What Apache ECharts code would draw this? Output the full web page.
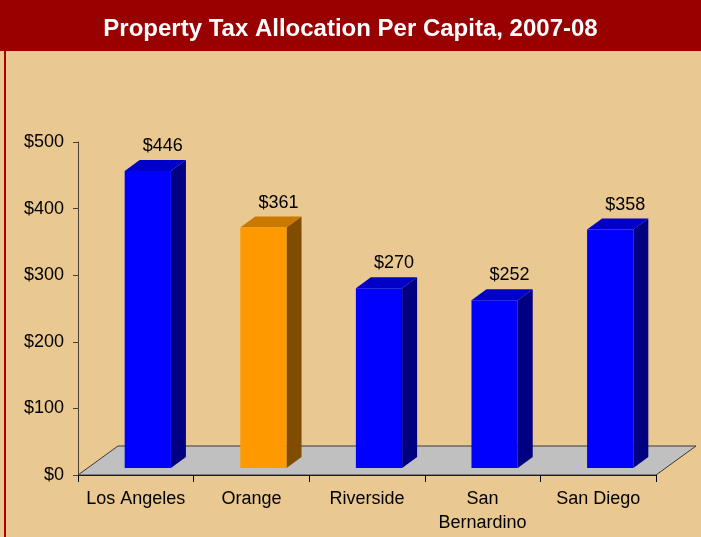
<!DOCTYPE html>
<html>
<head>
<meta charset="utf-8">
<script src="https://cdn.jsdelivr.net/npm/echarts@6/dist/echarts.min.js"></script>
<style>
  html, body { margin: 0; padding: 0; background: #E9C892; }
  #chart { width: 701px; height: 537px; }
</style>
</head>
<body>
<div id="chart"></div>
<script>
var titleText = 'Property Tax Allocation Per Capita, 2007-08';
var categories = ['Los Angeles', 'Orange', 'Riverside', 'San\nBernardino', 'San Diego'];
var values = [446, 361, 270, 252, 358];
var yTicks = [0, 100, 200, 300, 400, 500];

var font = 'Liberation Sans, Arial, sans-serif';
var bluePal = { front: '#0000FF', top: '#0000C8', side: '#000080' };
var orangePal = { front: '#FF9900', top: '#C97800', side: '#7F4C00' };

// pseudo 3d: depth offset of the floor, position of bars inside it
var floorDx = 40, floorDy = -29;
var barShiftX = 12, barShiftY = -7;
var depthDx = 15, depthDy = -11;

var chart = echarts.init(document.getElementById('chart'));

function renderFloor(params, api) {
    var cs = params.coordSys;
    var bx = cs.x, by = cs.y + cs.height, ex = cs.x + cs.width;
    return {
        type: 'polygon',
        shape: { points: [[bx, by], [ex, by], [ex + floorDx, by + floorDy], [bx + floorDx, by + floorDy]] },
        style: { fill: '#C0C0C0', stroke: '#3a3a3a', lineWidth: 1 },
        z2: 0
    };
}

function renderBar(params, api) {
    var i = api.value(0);
    var v = api.value(1);
    var base = api.coord([i, 0]);
    var top = api.coord([i, v]);
    var bw = api.size([1, 0])[0] * 0.4;
    var pal = categories[i] === 'Orange' ? orangePal : bluePal;
    var x0 = base[0] - bw / 2 + barShiftX;
    var x1 = x0 + bw;
    var yb = base[1] + barShiftY;
    var yt = top[1] + barShiftY;
    return {
        type: 'group',
        children: [
            {
                type: 'polygon',
                shape: { points: [[x1, yb], [x1 + depthDx, yb + depthDy], [x1 + depthDx, yt + depthDy], [x1, yt]] },
                style: { fill: pal.side }
            },
            {
                type: 'polygon',
                shape: { points: [[x0, yt], [x1, yt], [x1 + depthDx, yt + depthDy], [x0 + depthDx, yt + depthDy]] },
                style: { fill: pal.top }
            },
            {
                type: 'rect',
                shape: { x: x0, y: yt, width: bw, height: yb - yt },
                style: { fill: pal.front }
            },
            {
                type: 'text',
                x: (x0 + x1) / 2 + depthDx,
                y: yt + depthDy - 5,
                style: {
                    text: '$' + v,
                    fill: '#000',
                    font: '18px ' + font,
                    align: 'center',
                    verticalAlign: 'bottom'
                }
            }
        ]
    };
}

var option = {
    backgroundColor: '#E9C892',
    animation: false,
    title: {
        text: titleText,
        left: 'center',
        top: 12,
        textStyle: { color: '#fff', fontSize: 24, fontWeight: 'bold', fontFamily: font }
    },
    graphic: [
        { type: 'rect', left: 0, top: 0, shape: { width: 701, height: 51 }, style: { fill: '#990000' }, z: -1 },
        { type: 'rect', left: 4, top: 51, shape: { width: 2, height: 486 }, style: { fill: '#AA0000' }, z: -1 }
    ],
    grid: { left: 78, right: 45, top: 142, bottom: 62 },
    xAxis: {
        type: 'category',
        data: categories,
        axisLine: { lineStyle: { color: '#000', width: 1 } },
        axisTick: { show: true, length: 7, alignWithLabel: false, lineStyle: { color: '#000' } },
        axisLabel: { color: '#000', fontSize: 18, fontFamily: font, margin: 12, lineHeight: 24, interval: 0 }
    },
    yAxis: {
        type: 'value',
        min: 0,
        max: yTicks[yTicks.length - 1],
        interval: yTicks[1] - yTicks[0],
        axisLine: { show: true, lineStyle: { color: '#4d4333', width: 1 } },
        axisTick: { show: true, length: 5, lineStyle: { color: '#4d4333' } },
        splitLine: { show: false },
        axisLabel: {
            color: '#000', fontSize: 18, fontFamily: font, margin: 14,
            formatter: function (v) { return '$' + v; }
        }
    },
    series: [
        {
            type: 'custom',
            renderItem: renderFloor,
            data: [[0]],
            clip: false,
            silent: true,
            z: 1
        },
        {
            type: 'custom',
            renderItem: renderBar,
            data: values.map(function (v, i) { return [i, v]; }),
            encode: { x: 0, y: 1 },
            clip: false,
            z: 2
        }
    ]
};

chart.setOption(option);
</script>
</body>
</html>
